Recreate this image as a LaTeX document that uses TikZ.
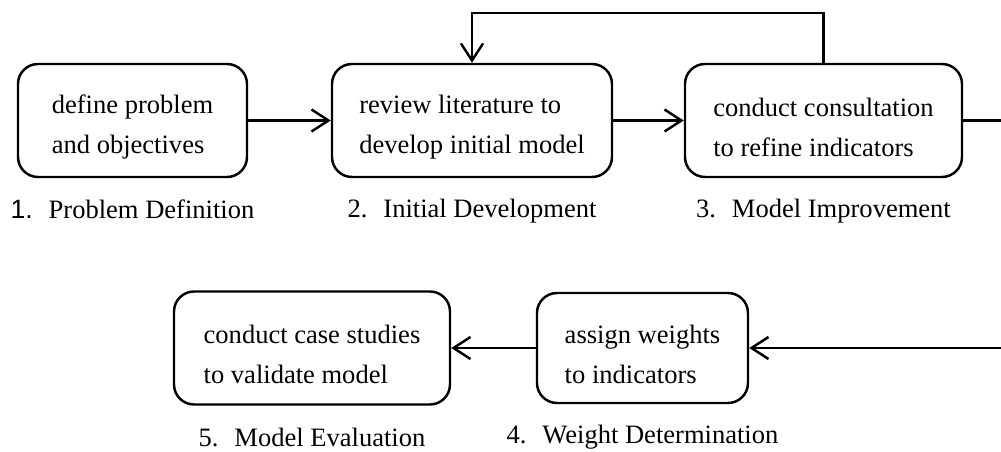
\documentclass[tikz,border=0pt]{standalone}
\usepackage{fontspec}
\setmainfont{Liberation Serif}
\newfontfamily\numfont{Liberation Sans}
\usepackage{tikz}
\usetikzlibrary{arrows.meta,positioning}
\newcommand{\topgap}{\rule{0pt}{18pt}}

\begin{document}
\begin{tikzpicture}[
    stage/.style = {rectangle, draw, line width=1.4pt, rounded corners=0.4cm, minimum height=2.26cm, align=left, font=\fontsize{15.1pt}{22.8pt}\selectfont},
    phase/.style = {font=\fontsize{15.1pt}{18pt}\selectfont},
    arrow/.style = {-{Straight Barb[length=0.34cm,width=0.44cm]}, line width=1.4pt}
]
    \useasboundingbox (0,0) rectangle (20.02,9.04);
    \clip (0,0) rectangle (20.02,9.04);

    % Top row
    \node[stage, minimum width=4.58cm] (define) at (2.65,6.63) {\topgap define problem\\and objectives};
    \node[stage, minimum width=5.6cm] (review) at (9.44,6.63) {\topgap review literature to\\develop initial model};
    \node[stage, minimum width=5.54cm] (consult) at (16.47,6.63) {\topgap conduct consultation\\to refine indicators};

    % Bottom row
    \node[stage, minimum width=4.22cm, minimum height=2.2cm] (weights) at (12.85,2.08) {\topgap assign weights\\to indicators};
    \node[stage, minimum width=5.52cm] (validate) at (6.24,2.08) {\topgap conduct case studies\\to validate model};

    % Phase names
    \node[phase, below=0.3cm of define] (p1) {{\numfont 1.}\hspace{0.6em}Problem Definition};
    \node[phase, below=0.3cm of review] (p2) {2.\hspace{0.6em}Initial Development};
    \node[phase, below=0.3cm of consult] (p3) {3.\hspace{0.6em}Model Improvement};
    \node[phase, below=0.3cm of weights] (p4) {4.\hspace{0.6em}Weight Determination};
    \node[phase, below=0.33cm of validate] (p5) {5.\hspace{0.6em}Model Evaluation};

    % Arrows
    \coordinate (loop) at (9.44,8.78);
    \coordinate (edge) at (20.2,6.63);
    \draw[arrow] (define) -- (review);
    \draw[arrow] (review) -- (consult);
    \draw[arrow] (consult.north) |- (loop) -- (review.north);
    \draw[arrow] (consult.east) -- (edge) |- (weights.east);
    \draw[arrow] (weights) -- (validate);

\end{tikzpicture}
\end{document}
